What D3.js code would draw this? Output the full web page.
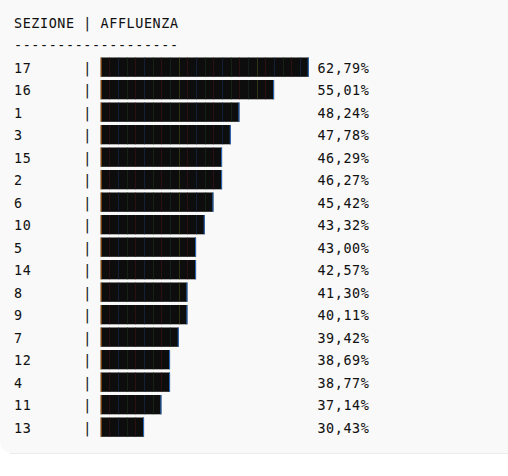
<!DOCTYPE html>
<html lang="it">
<head>
<meta charset="UTF-8">
<title>Affluenza per sezione</title>
<script src="https://d3js.org/d3.v7.min.js"></script>
<style>
  html, body { margin: 0; padding: 0; background: #ffffff; }
  svg { display: block; }
  text { font-family: "DejaVu Sans Mono", monospace; font-size: 13.4px; fill: #111111; stroke: #111111; stroke-width: 0.06px; letter-spacing: 0.6px; }
</style>
</head>
<body>
<svg id="chart" width="508" height="476"></svg>
<script>
// values
const sections = ["17", "16", "1", "3", "15", "2", "6", "10", "5", "14", "8", "9", "7", "12", "4", "11", "13"];
const affluenza = [62.79, 55.01, 48.24, 47.78, 46.29, 46.27, 45.42, 43.32, 43.00, 42.57, 41.30, 40.11, 39.42, 38.69, 38.77, 37.14, 30.43];
// bar length in block characters, as drawn in the text chart
const blocks = [24, 20, 16, 15, 14, 14, 13, 12, 11, 11, 10, 10, 9, 8, 8, 7, 5];
const header = ["SEZIONE", "|", "AFFLUENZA"];

const width = 508, height = 476;
const charW = 8.67;
const panelBottom = 453;

const svg = d3.select("#chart");

// code block panel
svg.append("path")
  .attr("d", `M-20,-20 H${width + 20} V${panelBottom} H12 A12,12 0 0 1 0,${panelBottom - 12} V-20 Z`)
  .attr("fill", "#f9f9f9");
svg.append("line")
  .attr("x1", 10).attr("x2", width)
  .attr("y1", panelBottom + 0.5).attr("y2", panelBottom + 0.5)
  .attr("stroke", "#ebebeb");

// column -> x, row -> baseline
const x = d3.scaleLinear().domain([0, 1]).range([14, 14 + charW]);
const y = d3.scaleLinear().domain([0, 1]).range([27.5, 50]);

const fmt = d3.formatLocale({ decimal: ",", thousands: ".", grouping: [3], currency: ["", "€"] }).format(".2f");

// header
svg.append("text").attr("x", x(0)).attr("y", y(0)).text(header.join(" "));
svg.append("text").attr("x", x(0)).attr("y", y(1)).text("-".repeat(header.join(" ").length));

const rows = svg.append("g").selectAll("g")
  .data(sections.map((s, i) => ({ s, v: affluenza[i], n: blocks[i], row: i + 2 })))
  .join("g");

rows.append("text").attr("x", x(0)).attr("y", d => y(d.row)).text(d => d.s);
rows.append("text").attr("x", x(8)).attr("y", d => y(d.row)).text("|");
rows.append("text").attr("x", x(35)).attr("y", d => y(d.row)).text(d => fmt(d.v) + "%");

// bars made of block characters
const seam = ["#3a1419", "#182a48", "#1a2e18", "#3a1419", "#182a48", "#1a2e18", "#3a1419", "#16291d", "#44441a"];
rows.each(function (d) {
  const g = d3.select(this);
  const top = y(d.row) - 15, h = 19.3;
  g.append("rect")
    .attr("x", x(10)).attr("y", top)
    .attr("width", x(10 + d.n) - x(10)).attr("height", h)
    .attr("fill", "#0d0d0d");
  g.selectAll("line.seam")
    .data(d3.range(1, d.n))
    .join("line")
    .attr("class", "seam")
    .attr("x1", k => Math.round(x(10 + k)) + 0.5).attr("x2", k => Math.round(x(10 + k)) + 0.5)
    .attr("y1", top).attr("y2", top + h)
    .attr("stroke", k => seam[(k - 1) % seam.length])
    .attr("stroke-width", 0.7);
  g.append("line")
    .attr("x1", x(10) + 0.5).attr("x2", x(10) + 0.5)
    .attr("y1", top).attr("y2", top + h)
    .attr("stroke", "#a8580c").attr("stroke-width", 1);
  g.append("line")
    .attr("x1", x(10 + d.n) - 0.5).attr("x2", x(10 + d.n) - 0.5)
    .attr("y1", top).attr("y2", top + h)
    .attr("stroke", "#2a6cc0").attr("stroke-width", 1);
});
</script>
</body>
</html>
